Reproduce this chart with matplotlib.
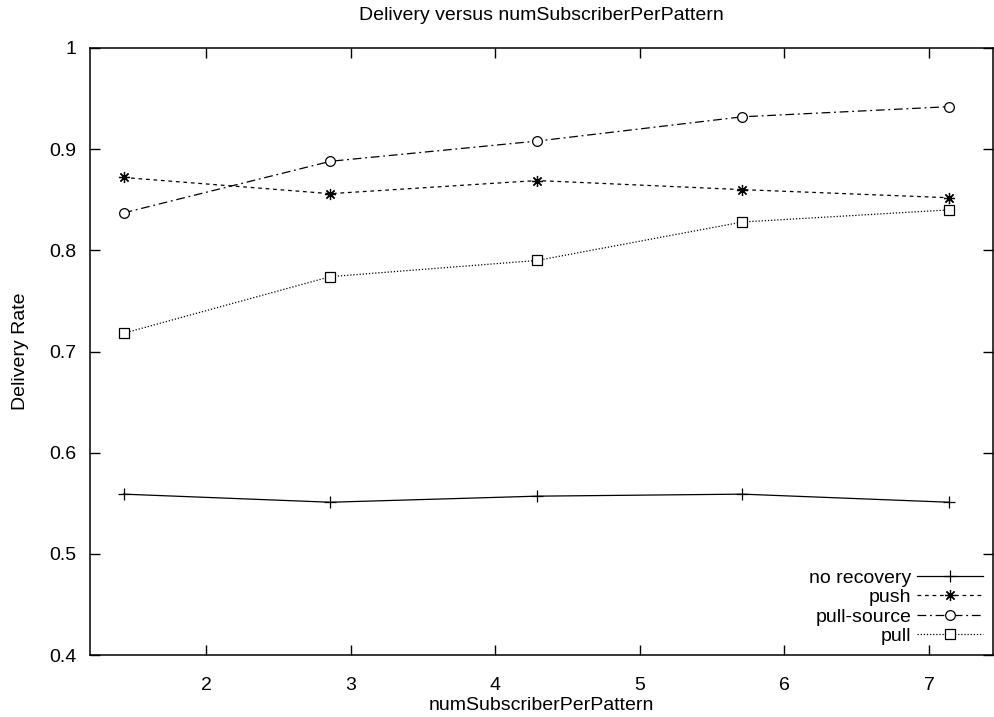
import numpy as np
import matplotlib
matplotlib.use("Agg")
import matplotlib.pyplot as plt

plt.rcParams['font.family'] = ['Liberation Sans', 'DejaVu Sans']

# numSubscriberPerPattern values (10/7 steps)
x_vals = [1.43, 2.86, 4.29, 5.71, 7.14]

no_recovery = [0.559, 0.551, 0.557, 0.559, 0.551]
push = [0.872, 0.856, 0.869, 0.860, 0.852]
pull_source = [0.837, 0.888, 0.908, 0.932, 0.942]
pull = [0.718, 0.774, 0.790, 0.828, 0.840]

x_ticks = [2, 3, 4, 5, 6, 7]
y_ticks = [0.4, 0.5, 0.6, 0.7, 0.8, 0.9, 1.0]
y_tick_labels = ['0.4', '0.5', '0.6', '0.7', '0.8', '0.9', '1']

fig = plt.figure(figsize=(9.94, 7.17), dpi=100)
ax = fig.add_axes([90 / 994, 1 - 655 / 717, (993 - 90) / 994, (655 - 48) / 717])

ax.plot(x_vals, no_recovery, color='black', lw=0.9, linestyle='-',
        marker='+', markersize=8, markeredgewidth=0.9, label='no recovery')
ax.plot(x_vals, push, color='black', lw=0.9, linestyle=(0, (3, 3)),
        marker=(8, 2, 0), markersize=8, markeredgewidth=0.9, label='push')
ax.plot(x_vals, pull_source, color='black', lw=0.9, linestyle=(0, (7, 3, 1.5, 3)),
        marker='o', markersize=7, markerfacecolor='white', markeredgewidth=0.9,
        label='pull-source')
ax.plot(x_vals, pull, color='black', lw=0.9, linestyle=(0, (1, 1.5)),
        marker='s', markersize=7, markerfacecolor='white', markeredgewidth=0.9,
        label='pull')

ax.set_xlim(1.198, 7.443)
ax.set_ylim(0.4, 1.0)
ax.set_xticks(x_ticks)
ax.set_yticks(y_ticks)
ax.set_yticklabels(y_tick_labels)
ax.tick_params(direction='in', length=7, width=1, top=True, right=True,
               labelsize=14)
ax.tick_params(axis='x', pad=16)
ax.tick_params(axis='y', pad=10)
for s in ax.spines.values():
    s.set_linewidth(1.1)

ax.set_title('Delivery versus numSubscriberPerPattern', fontsize=14, pad=20)
ax.set_xlabel('numSubscriberPerPattern', fontsize=14, labelpad=2)
ax.set_ylabel('Delivery Rate', fontsize=14, labelpad=14)

leg = ax.legend(loc='lower right', frameon=False, markerfirst=False, fontsize=14,
                handlelength=3.4, handletextpad=0.3, labelspacing=0.1,
                borderaxespad=0.2, borderpad=0.3)

fig.savefig('out.png', dpi=100)
